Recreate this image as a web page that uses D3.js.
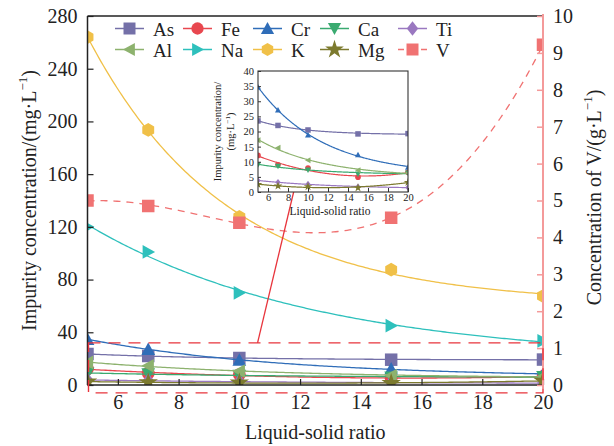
<!DOCTYPE html>
<html><head><meta charset="utf-8">
<script src="https://cdn.jsdelivr.net/npm/d3@7"></script>
<style>
body{margin:0;background:#fff}
svg{display:block}
text{font-family:"Liberation Serif","Times New Roman",serif;fill:#222}
</style>
</head><body>
<svg id="chart" width="614" height="446"></svg>
<script>
// Liquid-solid ratio (x)
const ratios = [5, 7, 10, 15, 20];
// Impurity concentrations, mg/L (left axis)
const asConc = [23.5, 22.0, 20.5, 19.2, 19.3];
const feConc = [12.1, 9.0, 7.9, 4.9, 6.5];
const crConc = [34.7, 27.1, 18.8, 12.3, 8.2];
const caConc = [9.0, 8.5, 7.3, 6.0, 6.3];
const tiConc = [3.8, 3.2, 2.6, 1.7, 1.5];
const alConc = [17.1, 14.6, 10.5, 7.2, 6.4];
const naConc = [120, 101, 70, 45, 33.5];
const kConc  = [264, 193.5, 127.5, 87.5, 67.5];
const mgConc = [2.5, 2.0, 1.8, 1.4, 3.2];
// Vanadium concentration, g/L (right axis)
const vConc  = [5.0, 4.85, 4.4, 4.53, 9.22];

const leftTicks  = [0, 40, 80, 120, 160, 200, 240, 280];
const rightTicks = [0, 1, 2, 3, 4, 5, 6, 7, 8, 9, 10];
const xTicks     = [6, 8, 10, 12, 14, 16, 18, 20];
const insetXTicks = [6, 8, 10, 12, 14, 16, 18, 20];
const insetYTicks = [0, 5, 10, 15, 20, 25, 30, 35, 40];

const series = [
  {name:"As", values:asConc, color:"#7470a8", shape:"square",   fit:"exp"},
  {name:"Fe", values:feConc, color:"#e8474f", shape:"circle",   fit:"poly2"},
  {name:"Cr", values:crConc, color:"#2f6db8", shape:"triUp",    fit:"exp"},
  {name:"Ca", values:caConc, color:"#3aaa70", shape:"triDown",  fit:"exp"},
  {name:"Ti", values:tiConc, color:"#9a78c0", shape:"diamond",  fit:"exp"},
  {name:"Al", values:alConc, color:"#8db26e", shape:"triLeft",  fit:"exp"},
  {name:"Na", values:naConc, color:"#2ec0bc", shape:"triRight", fit:"exp"},
  {name:"K",  values:kConc,  color:"#f0c048", shape:"hexagon",  fit:"exp"},
  {name:"Mg", values:mgConc, color:"#7c7a2e", shape:"star",     fit:"poly2"},
  {name:"V",  values:vConc,  color:"#f07272", shape:"square",   fit:"poly3", right:true, dashed:true}
];

// ---------- fitting helpers ----------
function fitExp(xs, ys){
  let best = null;
  const x0 = xs[0];
  for (let k = 0; k <= 600; k++){
    const t = Math.exp(Math.log(0.3) + k*(Math.log(300) - Math.log(0.3))/600);
    const e = xs.map(x => Math.exp(-(x - x0)/t));
    const n = xs.length;
    const se = d3.sum(e), sy = d3.sum(ys), see = d3.sum(e, v => v*v);
    const sey = d3.sum(e.map((v,i) => v*ys[i]));
    const det = n*see - se*se;
    if (Math.abs(det) < 1e-12) continue;
    const b = (n*sey - se*sy)/det, a = (sy - b*se)/n;
    const sse = d3.sum(ys.map((y,i) => (y - a - b*e[i])**2));
    if (!best || sse < best.sse) best = {a, b, t, sse};
  }
  return x => best.a + best.b*Math.exp(-(x - x0)/best.t);
}
function fitPoly(xs, ys, deg){
  const m = deg + 1;
  const A = Array.from({length:m}, () => new Array(m + 1).fill(0));
  xs.forEach((x,i) => {
    for (let r = 0; r < m; r++){
      for (let c = 0; c < m; c++) A[r][c] += Math.pow(x, r + c);
      A[r][m] += ys[i]*Math.pow(x, r);
    }
  });
  for (let p = 0; p < m; p++){
    let mx = p;
    for (let r = p + 1; r < m; r++) if (Math.abs(A[r][p]) > Math.abs(A[mx][p])) mx = r;
    [A[p], A[mx]] = [A[mx], A[p]];
    for (let r = 0; r < m; r++){
      if (r === p) continue;
      const f = A[r][p]/A[p][p];
      for (let c = p; c <= m; c++) A[r][c] -= f*A[p][c];
    }
  }
  const coef = A.map((row,i) => row[m]/row[i]);
  return x => coef.reduce((s,c,i) => s + c*Math.pow(x, i), 0);
}
function fitFor(s){
  if (s.fit === "exp") return fitExp(ratios, s.values);
  if (s.fit === "poly2") return fitPoly(ratios, s.values, 2);
  return fitPoly(ratios, s.values, 3);
}
series.forEach(s => { s.f = fitFor(s); });

// ---------- marker shapes ----------
function markerPath(shape, s){
  const h = s/2;
  const poly = pts => "M" + pts.map(p => p.join(",")).join("L") + "Z";
  switch (shape){
    case "square": return poly([[-h,-h],[h,-h],[h,h],[-h,h]]);
    case "circle": return d3.symbol(d3.symbolCircle, Math.PI*h*h*1.05)();
    case "triUp":    return poly([[0,-h*1.1],[h*1.1,h*0.9],[-h*1.1,h*0.9]]);
    case "triDown":  return poly([[0,h*1.1],[h*1.1,-h*0.9],[-h*1.1,-h*0.9]]);
    case "triLeft":  return poly([[-h*1.1,0],[h*0.9,-h*1.1],[h*0.9,h*1.1]]);
    case "triRight": return poly([[h*1.1,0],[-h*0.9,-h*1.1],[-h*0.9,h*1.1]]);
    case "diamond":  return poly([[0,-h*1.2],[h*0.95,0],[0,h*1.2],[-h*0.95,0]]);
    case "hexagon":  return poly(d3.range(6).map(i => {
                        const a = Math.PI/2 + i*Math.PI/3;
                        return [h*1.1*Math.cos(a), h*1.1*Math.sin(a)];
                      }));
    case "star": return d3.symbol(d3.symbolStar, s*s*0.75)();
  }
}

const svg = d3.select("#chart");

// ---------- main plot ----------
const plot = {left:87.5, right:543, top:16, bottom:385};
const x = d3.scaleLinear().domain([5, 20]).range([plot.left, plot.right]);
const yL = d3.scaleLinear().domain([0, 280]).range([plot.bottom, plot.top]);
const yR = d3.scaleLinear().domain([0, 10]).range([plot.bottom, plot.top]);

svg.append("clipPath").attr("id", "mainClip").append("rect")
  .attr("x", plot.left).attr("y", plot.top - 8)
  .attr("width", plot.right - plot.left).attr("height", plot.bottom - plot.top + 8);

const gMain = svg.append("g").attr("clip-path", "url(#mainClip)");
const sampleX = d3.range(0, 201).map(i => 5 + i*15/200);

series.forEach(s => {
  const yS = s.right ? yR : yL;
  gMain.append("path")
    .datum(sampleX)
    .attr("fill", "none")
    .attr("stroke", s.color)
    .attr("stroke-width", 1.3)
    .attr("stroke-dasharray", s.dashed ? "7,6" : null)
    .attr("d", d3.line().x(d => x(d)).y(d => yS(s.f(d))));
  gMain.selectAll(null).data(ratios).enter().append("path")
    .attr("transform", (d,i) => `translate(${x(d)},${yS(s.values[i])})`)
    .attr("d", markerPath(s.shape, 12.5))
    .attr("fill", s.color);
});

// axes frame
const axisColor = "#222";
svg.append("line").attr("x1", plot.left).attr("x2", plot.right).attr("y1", plot.top).attr("y2", plot.top)
  .attr("stroke", axisColor).attr("stroke-width", 1.5);
svg.append("line").attr("x1", plot.left).attr("x2", plot.left).attr("y1", plot.top).attr("y2", plot.bottom)
  .attr("stroke", axisColor).attr("stroke-width", 1.5);
svg.append("line").attr("x1", plot.left).attr("x2", plot.right).attr("y1", plot.bottom).attr("y2", plot.bottom)
  .attr("stroke", axisColor).attr("stroke-width", 1.5);

// left axis
const gLeft = svg.append("g").attr("transform", `translate(${plot.left},0)`)
  .call(d3.axisLeft(yL).tickValues(leftTicks).tickSizeInner(-6).tickSizeOuter(0).tickPadding(10));
gLeft.select(".domain").remove();
gLeft.selectAll(".tick line").attr("stroke", axisColor).attr("stroke-width", 1.2);
gLeft.selectAll("text").attr("font-size", 20).attr("font-family", "Liberation Serif").attr("fill", "#222");

// bottom axis
const gBottom = svg.append("g").attr("transform", `translate(0,${plot.bottom})`)
  .call(d3.axisBottom(x).tickValues(xTicks).tickSizeInner(-6).tickSizeOuter(0).tickPadding(10));
gBottom.select(".domain").remove();
gBottom.selectAll(".tick line").attr("stroke", axisColor).attr("stroke-width", 1.2);
gBottom.selectAll("text").attr("font-size", 20).attr("font-family", "Liberation Serif").attr("fill", "#222");

// right axis (vanadium)
const vAxisColor = "#f49a9a";
const gRight = svg.append("g").attr("transform", `translate(${plot.right},0)`)
  .call(d3.axisRight(yR).tickValues(rightTicks).tickSizeInner(-6).tickSizeOuter(0).tickPadding(10));
gRight.select(".domain").attr("stroke", vAxisColor).attr("stroke-width", 2)
  .attr("d", `M0,${plot.top - 2}V${plot.bottom + 3}`);
gRight.selectAll(".tick line").attr("stroke", vAxisColor).attr("stroke-width", 1.5);
gRight.selectAll("text").attr("font-size", 20).attr("font-family", "Liberation Serif").attr("fill", "#222");

// axis titles
svg.append("text").attr("x", (plot.left + plot.right)/2).attr("y", 432)
  .attr("text-anchor", "middle").attr("dominant-baseline", "central").attr("font-size", 20)
  .text("Liquid-solid ratio");

function unitTitle(g, prefix, unit){
  g.append("tspan").text(prefix + "(" + unit + "·L");
  g.append("tspan").attr("dy", -7).attr("font-size", 13).text("−1");
  g.append("tspan").attr("dy", 7).text(")");
}
const leftTitle = svg.append("text")
  .attr("transform", `translate(29,${(plot.top + plot.bottom)/2}) rotate(-90)`)
  .attr("text-anchor", "middle").attr("dominant-baseline", "central").attr("font-size", 20);
unitTitle(leftTitle, "Impurity concentration/", "mg");
const rightTitle = svg.append("text")
  .attr("transform", `translate(594,${(plot.top + plot.bottom)/2 - 3}) rotate(-90)`)
  .attr("text-anchor", "middle").attr("dominant-baseline", "central").attr("font-size", 20);
unitTitle(rightTitle, "Concentration of V/", "g");

// ---------- legend ----------
const legendCols = [115, 183, 253, 320, 398];
const legendRows = [28.5, 49.5];
series.forEach((s, i) => {
  const cx = legendCols[i % 5], cy = legendRows[Math.floor(i/5)];
  const g = svg.append("g");
  g.append("line").attr("x1", cx).attr("x2", cx + 29).attr("y1", cy).attr("y2", cy)
    .attr("stroke", s.color).attr("stroke-width", 1.5)
    .attr("stroke-dasharray", s.dashed ? "6,5.5" : null);
  g.append("path").attr("transform", `translate(${cx + 14.5},${cy})`)
    .attr("d", markerPath(s.shape, 12)).attr("fill", s.color);
  g.append("text").attr("x", cx + 38).attr("y", cy + 1).attr("dominant-baseline", "central")
    .attr("font-size", 19).text(s.name);
});

// ---------- zoomed region marker and arrow ----------
const zoomBox = {x0:5, x1:20, y0:-6, y1:32};
const zoomColor = "#e8343c";
svg.append("rect")
  .attr("x", x(zoomBox.x0) + 1).attr("y", yL(zoomBox.y1))
  .attr("width", x(zoomBox.x1) - x(zoomBox.x0) - 1).attr("height", yL(zoomBox.y0) - yL(zoomBox.y1))
  .attr("fill", "none").attr("stroke", zoomColor).attr("stroke-width", 1.4)
  .attr("stroke-dasharray", "12,8");

const arrowFrom = {x:10.6, y:32}, arrowTo = {x:11.95, y:162};
svg.append("defs").append("marker").attr("id", "arrowHead")
  .attr("viewBox", "0 0 10 10").attr("refX", 9).attr("refY", 5)
  .attr("markerWidth", 7).attr("markerHeight", 7).attr("orient", "auto")
  .append("path").attr("d", "M0,1L10,5L0,9Z").attr("fill", zoomColor);
svg.append("line")
  .attr("x1", x(arrowFrom.x)).attr("y1", yL(arrowFrom.y))
  .attr("x2", x(arrowTo.x)).attr("y2", yL(arrowTo.y))
  .attr("stroke", zoomColor).attr("stroke-width", 1.3).attr("marker-end", "url(#arrowHead)");

// ---------- inset: low-concentration impurities ----------
const inset = {left:258, right:408, top:71, bottom:192};
const xi = d3.scaleLinear().domain([5, 20]).range([inset.left, inset.right]);
const yi = d3.scaleLinear().domain([0, 40]).range([inset.bottom, inset.top]);
const insetSeries = series.filter(s => !s.right && d3.max(s.values) < 40);

svg.append("rect").attr("x", inset.left).attr("y", inset.top)
  .attr("width", inset.right - inset.left).attr("height", inset.bottom - inset.top)
  .attr("fill", "#fff");
svg.append("clipPath").attr("id", "insetClip").append("rect")
  .attr("x", inset.left).attr("y", inset.top)
  .attr("width", inset.right - inset.left).attr("height", inset.bottom - inset.top);
const gIn = svg.append("g").attr("clip-path", "url(#insetClip)");
insetSeries.forEach(s => {
  gIn.append("path").datum(sampleX).attr("fill", "none")
    .attr("stroke", s.color).attr("stroke-width", 1.2)
    .attr("d", d3.line().x(d => xi(d)).y(d => yi(s.f(d))));
  gIn.selectAll(null).data(ratios).enter().append("path")
    .attr("transform", (d,i) => `translate(${xi(d)},${yi(s.values[i])})`)
    .attr("d", markerPath(s.shape, 5.5)).attr("fill", s.color);
});
svg.append("rect").attr("x", inset.left).attr("y", inset.top)
  .attr("width", inset.right - inset.left).attr("height", inset.bottom - inset.top)
  .attr("fill", "none").attr("stroke", "#333").attr("stroke-width", 1.1);

const giL = svg.append("g").attr("transform", `translate(${inset.left},0)`)
  .call(d3.axisLeft(yi).tickValues(insetYTicks).tickSizeInner(-3).tickSizeOuter(0).tickPadding(4));
giL.select(".domain").remove();
giL.selectAll(".tick line").attr("stroke", "#333");
giL.selectAll("text").attr("font-size", 10.5).attr("font-family", "Liberation Serif").attr("fill", "#333");
const giB = svg.append("g").attr("transform", `translate(0,${inset.bottom})`)
  .call(d3.axisBottom(xi).tickValues(insetXTicks).tickSizeInner(-4).tickSizeOuter(0).tickPadding(2));
giB.select(".domain").remove();
giB.selectAll(".tick line").attr("stroke", "#333");
giB.selectAll("text").attr("font-size", 10.5).attr("font-family", "Liberation Serif").attr("fill", "#333");

svg.append("text").attr("x", (inset.left + inset.right)/2 - 3).attr("y", 210.5)
  .attr("text-anchor", "middle").attr("dominant-baseline", "central").attr("font-size", 11.5)
  .attr("fill", "#333").text("Liquid-solid ratio");
const iTitle = svg.append("text")
  .attr("transform", `translate(221,${(inset.top + inset.bottom)/2}) rotate(-90)`)
  .attr("text-anchor", "middle").attr("font-size", 10.5).attr("fill", "#333");
iTitle.append("tspan").attr("x", 0).attr("dy", 0).text("Impurity concentration/");
iTitle.append("tspan").attr("x", 0).attr("dy", 13).text("(mg·L");
iTitle.append("tspan").attr("dy", -4).attr("font-size", 7).text("−1");
iTitle.append("tspan").attr("dy", 4).text(")");
</script>
</body></html>
